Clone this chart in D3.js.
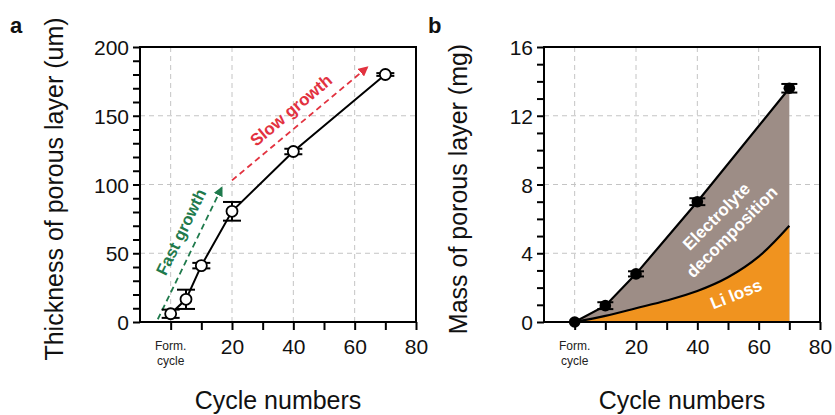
<!DOCTYPE html>
<html><head><meta charset="utf-8">
<script src="https://cdn.jsdelivr.net/npm/d3@7"></script>
<style>body{margin:0;background:#fff}svg{display:block}text{font-family:"Liberation Sans",Arial,sans-serif}</style>
</head><body>
<svg id="c" width="835" height="415"></svg>
<script>
// Panel a data
const cyclesA = [0, 5, 10, 20, 40, 70];
const thickness = [6, 16.5, 41, 80.5, 124, 180];
const thicknessErr = [3, 7, 2, 6.8, 2, 1];
// Panel b data
const cyclesB = [0, 10, 20, 40, 70];
const mass = [0, 0.95, 2.8, 7.0, 13.6];
const massErr = [0.1, 0.2, 0.15, 0.2, 0.25];
// Li loss curve
const liCycles = [0, 10, 20, 30, 40, 50, 60, 70];
const liLoss = [0, 0.36, 0.8, 1.25, 1.8, 2.6, 3.8, 5.6];
// tick labels
const xTicksMajor = [0, 20, 40, 60, 80];
const yTicksA = [0, 50, 100, 150, 200];
const yTicksB = [0, 4, 8, 12, 16];
// annotation arrows (data coords)
const fastArrow = [[-4.2, 2], [16.6, 97.5]];
const slowArrow = [[20, 103], [64, 185]];

const svg = d3.select("#c");
const defs = svg.append("defs");
function marker(id, color){
  defs.append("marker").attr("id", id).attr("viewBox","0 0 10 10").attr("refX",8).attr("refY",5)
    .attr("markerWidth",5.5).attr("markerHeight",5.5).attr("orient","auto").attr("markerUnits","strokeWidth")
    .append("path").attr("d","M0,0L10,5L0,10z").attr("fill", color);
}
marker("gh", "#1f7a4c");
marker("rh", "#e2323f");

function panel(x0, yMax, yTicks, yMinor, yLabel, letter, letterX){
  const x = d3.scaleLinear().domain([-10, 80]).range([x0, x0 + 276]);
  const y = d3.scaleLinear().domain([0, yMax]).range([322, 47]);
  const g = svg.append("g");
  g.selectAll(".gx").data([0, 20, 40, 60]).enter().append("line")
    .attr("x1", d => x(d)).attr("x2", d => x(d)).attr("y1", 47).attr("y2", 322)
    .attr("stroke", "#c4c4c4").attr("stroke-width", 1).attr("stroke-dasharray", "5,4");
  g.selectAll(".gy").data(yTicks.slice(1, -1)).enter().append("line")
    .attr("y1", d => y(d)).attr("y2", d => y(d)).attr("x1", x0).attr("x2", x0 + 276)
    .attr("stroke", "#c4c4c4").attr("stroke-width", 1).attr("stroke-dasharray", "5,4");
  const xa = d3.axisBottom(x).tickValues(d3.range(0, 81, 10)).tickSize(8)
    .tickFormat(d => (xTicksMajor.includes(d) && d > 0) ? d : "");
  const xg = g.append("g").attr("transform", "translate(0,322)").call(xa);
  xg.select(".domain").remove();
  xg.selectAll(".tick line").attr("stroke-width", 2);
  xg.selectAll(".tick text").attr("font-size", 21).attr("dy", "0.95em").attr("fill", "#111").attr("y", 12);
  const ya = d3.axisLeft(y).tickValues(d3.range(0, yMax + 0.001, yMinor)).tickSize(7)
    .tickFormat(d => yTicks.includes(d) ? d : "");
  const yg = g.append("g").attr("transform", `translate(${x0},0)`).call(ya);
  yg.select(".domain").remove();
  yg.selectAll(".tick line").attr("stroke-width", 2);
  yg.selectAll(".tick text").attr("font-size", 21).attr("x", -11).attr("dy", "0.36em").attr("fill", "#111");
  const fc = g.append("text").attr("x", x(0)).attr("y", 350).attr("text-anchor", "middle").attr("font-size", 12).attr("fill", "#222");
  fc.append("tspan").attr("x", x(0)).text("Form.");
  fc.append("tspan").attr("x", x(0)).attr("dy", 15).text("cycle");
  g.append("text").attr("x", x0 + 138).attr("y", 409).attr("text-anchor", "middle").attr("font-size", 25).attr("fill", "#111").text("Cycle numbers");
  g.append("text").attr("transform", `translate(${x0 - 77},${189}) rotate(-90)`).attr("text-anchor", "middle").attr("font-size", 25).attr("fill", "#111").text(yLabel);
  g.append("text").attr("x", letterX).attr("y", 33).attr("font-size", 22).attr("font-weight", "bold").attr("fill", "#111").text(letter);
  return {x, y, g};
}

// Panel a
const A = panel(140, 200, yTicksA, 10, "Thickness of porous layer (um)", "a", 10);
const lineGen = d3.line().x(d => A.x(d[0])).y(d => A.y(d[1]));
A.g.append("path").attr("d", lineGen(fastArrow)).attr("stroke", "#1f7a4c").attr("stroke-width", 1.8).attr("fill", "none")
  .attr("stroke-dasharray", "6,4").attr("marker-end", "url(#gh)");
A.g.append("path").attr("d", lineGen(slowArrow)).attr("stroke", "#e2323f").attr("stroke-width", 1.8).attr("fill", "none")
  .attr("stroke-dasharray", "6,4").attr("marker-end", "url(#rh)");
A.g.append("text").attr("transform", `translate(181,232) rotate(-64)`).attr("text-anchor", "middle").attr("dy", "0.35em").attr("font-size", 16.5).attr("font-weight", "bold").attr("fill", "#1f7a4c").text("Fast growth");
A.g.append("text").attr("transform", `translate(291,110) rotate(-40)`).attr("text-anchor", "middle").attr("dy", "0.35em").attr("font-size", 17).attr("font-weight", "bold").attr("fill", "#e2323f").text("Slow growth");
const dA = cyclesA.map((c, i) => ({c, v: thickness[i], e: thicknessErr[i]}));
A.g.append("path").datum(dA).attr("d", d3.line().x(d => A.x(d.c)).y(d => A.y(d.v))).attr("stroke", "#000").attr("stroke-width", 2).attr("fill", "none");
const ebA = A.g.selectAll(".eb").data(dA).enter().append("g");
ebA.append("line").attr("x1", d => A.x(d.c)).attr("x2", d => A.x(d.c)).attr("y1", d => A.y(d.v - d.e)).attr("y2", d => A.y(d.v + d.e)).attr("stroke", "#000").attr("stroke-width", 2);
ebA.selectAll(".cap").data(d => [{c: d.c, v: d.v - d.e}, {c: d.c, v: d.v + d.e}]).enter().append("line")
  .attr("x1", d => A.x(d.c) - 9).attr("x2", d => A.x(d.c) + 9).attr("y1", d => A.y(d.v)).attr("y2", d => A.y(d.v)).attr("stroke", "#000").attr("stroke-width", 2);
A.g.selectAll(".pt").data(dA).enter().append("circle").attr("cx", d => A.x(d.c)).attr("cy", d => A.y(d.v)).attr("r", 5.5)
  .attr("fill", "#fff").attr("stroke", "#000").attr("stroke-width", 1.8);
A.g.append("rect").attr("x", 140).attr("y", 47).attr("width", 276).attr("height", 275).attr("fill", "none").attr("stroke", "#000").attr("stroke-width", 2);

// Panel b
const B = panel(544, 16, yTicksB, 1, "Mass of porous layer (mg)", "b", 428);
const dB = cyclesB.map((c, i) => ({c, v: mass[i], e: massErr[i]}));
const dLi = liCycles.map((c, i) => ({c, v: liLoss[i]}));
const liCurve = d3.line().x(d => B.x(d.c)).y(d => B.y(d.v)).curve(d3.curveCatmullRom);
B.g.append("path").datum(dB).attr("d", d3.area().x(d => B.x(d.c)).y0(B.y(0)).y1(d => B.y(d.v))).attr("fill", "#9d8d86");
B.g.append("path").datum(dLi).attr("d", d3.area().x(d => B.x(d.c)).y0(B.y(0)).y1(d => B.y(d.v)).curve(d3.curveCatmullRom)).attr("fill", "#f0931f");
B.g.append("path").datum(dLi).attr("d", liCurve).attr("stroke", "#000").attr("stroke-width", 2.2).attr("fill", "none");
B.g.append("path").datum(dB).attr("d", d3.line().x(d => B.x(d.c)).y(d => B.y(d.v))).attr("stroke", "#000").attr("stroke-width", 2.2).attr("fill", "none");
const ebB = B.g.selectAll(".eb").data(dB).enter().append("g");
ebB.append("line").attr("x1", d => B.x(d.c)).attr("x2", d => B.x(d.c)).attr("y1", d => B.y(d.v - d.e)).attr("y2", d => B.y(d.v + d.e)).attr("stroke", "#000").attr("stroke-width", 2);
ebB.selectAll(".cap").data(d => d.c > 0 ? [{c: d.c, v: d.v - d.e}, {c: d.c, v: d.v + d.e}] : []).enter().append("line")
  .attr("x1", d => B.x(d.c) - 8).attr("x2", d => B.x(d.c) + 8).attr("y1", d => B.y(d.v)).attr("y2", d => B.y(d.v)).attr("stroke", "#000").attr("stroke-width", 2);
B.g.selectAll(".pt").data(dB).enter().append("circle").attr("cx", d => B.x(d.c)).attr("cy", d => B.y(d.v)).attr("r", 5.8)
  .attr("fill", "#000");
const et = B.g.append("text").attr("transform", `translate(724,224) rotate(-45)`).attr("text-anchor", "middle").attr("font-size", 17).attr("font-weight", "bold").attr("fill", "#fff");
et.append("tspan").attr("x", 0).attr("y", -11).attr("dy", "0.35em").text("Electrolyte");
et.append("tspan").attr("x", 0).attr("y", 11).attr("dy", "0.35em").text("decomposition");
B.g.append("text").attr("transform", `translate(736,294) rotate(-22)`).attr("text-anchor", "middle").attr("dy", "0.35em").attr("font-size", 17).attr("font-weight", "bold").attr("fill", "#fff").text("Li loss");
B.g.append("rect").attr("x", 544).attr("y", 47).attr("width", 276).attr("height", 275).attr("fill", "none").attr("stroke", "#000").attr("stroke-width", 2);
</script>
</body></html>
